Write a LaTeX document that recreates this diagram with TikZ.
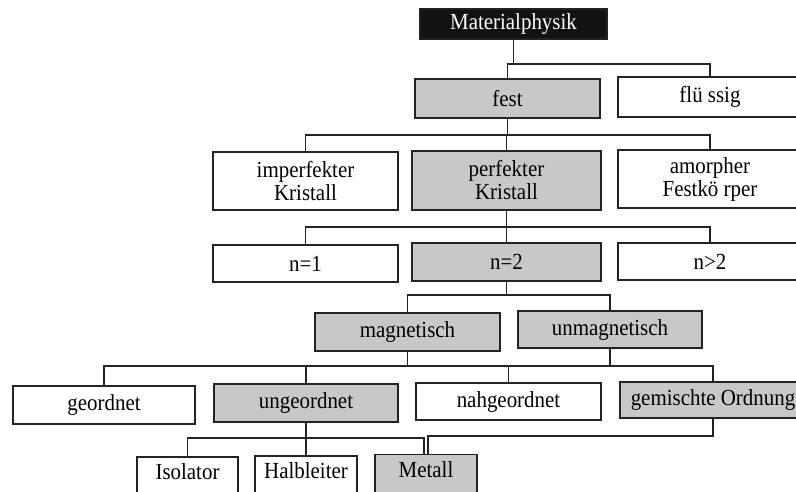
\documentclass[tikz,border=0pt]{standalone}
\usepackage{fontspec}
\setmainfont{Liberation Serif}[FakeStretch=0.91]
\usetikzlibrary{calc}
\definecolor{boxgray}{RGB}{200,200,200}
\definecolor{linecol}{RGB}{35,35,35}
\begin{document}
\begin{tikzpicture}[x=1pt,y=-1pt,
  boxbase/.style={draw=linecol, line width=1.5pt, rectangle, inner sep=0pt, align=center, font=\fontsize{23}{23}\selectfont},
  wbox/.style={boxbase, fill=white},
  gbox/.style={boxbase, fill=boxgray},
  bbox/.style={boxbase, fill=black!93, text=white},
  lowbox/.style={text height=23pt, text depth=26pt, anchor=north},
  conn/.style={draw=linecol, line width=1.5pt}]
\useasboundingbox (0,0) rectangle (796,491);
\clip (0,0) rectangle (796,491);
\fill[white] (0,0) rectangle (796,491);

% bar levels
\coordinate (b1) at (0,64);
\coordinate (b2) at (0,135);
\coordinate (b3) at (0,227);
\coordinate (b4) at (0,295);
\coordinate (b5) at (0,366);
\coordinate (b6) at (0,438);
\coordinate (b7) at (0,436);

% nodes
\node[bbox, minimum width=187pt, minimum height=30pt] (mat) at (513.5,24) {Materialphysik};
\node[gbox, minimum width=185pt, minimum height=39pt] (fest) at (507.5,98.5) {fest};
\node[wbox, minimum width=184pt, minimum height=40pt] (fl) at (710,97) {flü ssig};

\node[wbox, minimum width=185pt, minimum height=58pt] (imp) at (305.5,181) {imperfekter\\Kristall};
\node[gbox, minimum width=189pt, minimum height=59pt] (perf) at (506.5,180.5) {perfekter\\Kristall};
\node[wbox, minimum width=184pt, minimum height=58pt] (amo) at (710,179) {amorpher\\Festkö rper};

\node[wbox, minimum width=185pt, minimum height=37pt] (n1) at (305.5,263.5) {n=1};
\node[gbox, minimum width=189pt, minimum height=38pt] (n2) at (506.5,262) {n=2};
\node[wbox, minimum width=184pt, minimum height=37pt] (n3) at (710,261.5) {n>2};

\node[gbox, minimum width=185pt, minimum height=38pt] (mag) at (407.5,332) {magnetisch};
\node[gbox, minimum width=184pt, minimum height=37pt] (unmag) at (610,329.5) {unmagnetisch};

\node[wbox, minimum width=182pt, minimum height=38pt] (geo) at (104,405) {geordnet};
\node[gbox, minimum width=184pt, minimum height=38pt] (unge) at (306,403) {ungeordnet};
\node[wbox, minimum width=185pt, minimum height=37pt] (nah) at (508.5,401.5) {nahgeordnet};
\node[gbox, minimum width=186pt, minimum height=36pt] (gem) at (713,400) {gemischte Ordnung};

\node[wbox, lowbox, minimum width=101pt] (iso) at (187.5,456) {Isolator};
\node[wbox, lowbox, minimum width=102pt] (halb) at (306,455) {Halbleiter};
\node[gbox, lowbox, minimum width=102pt] (met) at (426,453.5) {Metall};

\coordinate (metL) at ($(met.north)+(-2,0)$);
\coordinate (metR) at ($(met.north)+(2,0)$);

% connectors
\draw[conn] (mat.south) -- (mat.south |- b1);
\draw[conn] (fest.north) |- (fl.north |- b1) -- (fl.north);

\draw[conn] (fest.south) -- (fest.south |- b2);
\draw[conn] (imp.north) |- (amo.north |- b2) -- (amo.north);
\draw[conn] (perf.north) -- (perf.north |- b2);

\draw[conn] (perf.south) -- (perf.south |- b3);
\draw[conn] (n1.north) |- (n3.north |- b3) -- (n3.north);
\draw[conn] (n2.north) -- (n2.north |- b3);

\draw[conn] (n2.south) -- (n2.south |- b4);
\draw[conn] (mag.north) |- (unmag.north |- b4) -- (unmag.north);

\draw[conn] (mag.south) -- (mag.south |- b5);
\draw[conn] (unmag.south) -- (unmag.south |- b5);
\draw[conn] (geo.north) |- (gem.north |- b5) -- (gem.north);
\draw[conn] (unge.north) -- (unge.north |- b5);
\draw[conn] (nah.north) -- (nah.north |- b5);

\draw[conn] (unge.south) -- (halb.north);
\draw[conn] (iso.north) |- (metL |- b6) -- (metL);
\draw[conn] (gem.south) |- (metR |- b7) -- (metR);
\end{tikzpicture}
\end{document}
